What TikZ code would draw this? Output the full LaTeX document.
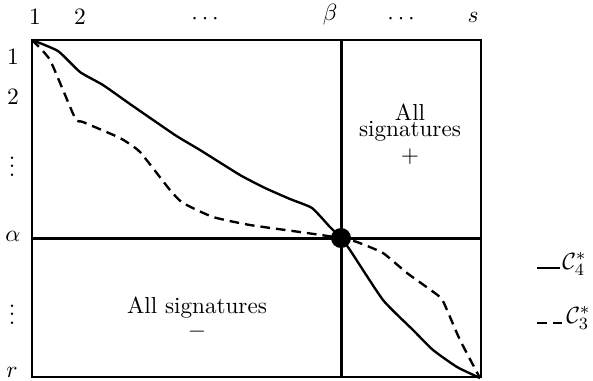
\documentclass[tikz,border=0pt]{standalone}
\usepackage{amsmath,amssymb}
\usepackage{tikz}
\usetikzlibrary{calc}

\tikzset{
    curvefour/.style={line width=1.1pt,line join=round},
    curvethree/.style={line width=1.1pt,line join=round,dash pattern=on 4.5pt off 2.8pt},
    axisline/.style={line width=1.4pt},
    lbl/.style={inner sep=0pt,font=\fontsize{10.8pt}{13pt}\selectfont}
}

\begin{document}
\begin{tikzpicture}[x=0.0164cm,y=-0.0164cm]
    \useasboundingbox (0,0) rectangle (593,380);
    % frame and the two axes through (alpha,beta)
    \draw[line width=0.7pt] (32,40) rectangle (481,377);
    \draw[axisline] (32,238) -- (481,238);
    \draw[axisline] (341,40) -- (341,377);
    % C_4^*
    \draw[curvefour] plot[smooth,tension=0.3] coordinates {(32,40) (58,51) (80,72) (103,85) (130,104) (175,135) (200,150) (240,175) (265,188) (290,199) (312,208) (330,227) (341,238) (350,250) (383,300) (413,330) (433,350) (457,367) (480,378)};
    % C_3^*
    \draw[curvethree] plot[smooth,tension=0.3] coordinates {(32,40) (50,60) (75,118) (83,122) (120,138) (140,152) (170,190) (183,203) (213,217) (250,225) (300,232) (341,238) (357,242) (383,253) (407,273) (440,297) (447,310) (460,340) (480,378)};
    \fill (341,238) circle (10);
    % column labels
    \node[lbl] (col1) at (35,17) {$1$};
    \node[lbl] (col2) at (80,17) {$2$};
    \node[lbl] (coldots) at (207,19) {$\cdots$};
    \node[lbl] (colb) at (330,15) {$\beta$};
    \node[lbl] (coldotsb) at (403,19) {$\cdots$};
    \node[lbl] (cols) at (473,17) {$s$};
    % row labels
    \node[lbl] (row1) at (13,57) {$1$};
    \node[lbl] (row2) at (13,97) {$2$};
    \node[lbl] (rowdots) at (12,160) {$\vdots$};
    \node[lbl] (rowa) at (13,236) {$\alpha$};
    \node[lbl] (rowdotsb) at (12,308) {$\vdots$};
    \node[lbl] (rowr) at (12,372) {$r$};
    % regions
    \node[lbl] (allp) at (410,112) {All};
    \node[lbl] (sigp) at (410,131) {signatures};
    \node[lbl] (plus) at (410,157) {$+$};
    \node[lbl] (sigm) at (197,308) {All signatures};
    \node[lbl] (minus) at (197,332) {$-$};
    % legend
    \draw[curvefour] (537,268) -- (560,268);
    \node[lbl,anchor=west] (leg4) at (562,264) {$\mathcal{C}_4^*$};
    \draw[curvethree] (537,323) -- (563,323);
    \node[lbl,anchor=west] (leg3) at (566,318) {$\mathcal{C}_3^*$};
\end{tikzpicture}
\end{document}
